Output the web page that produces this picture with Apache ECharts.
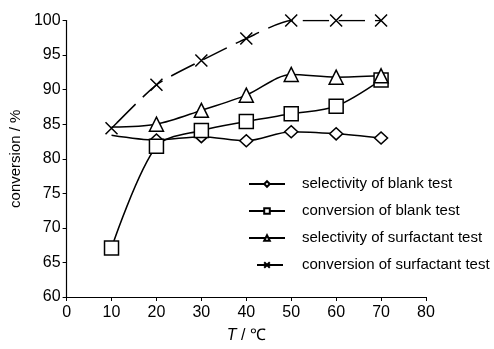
<!DOCTYPE html>
<html><head><meta charset="utf-8">
<script src="https://cdn.jsdelivr.net/npm/echarts@6/dist/echarts.min.js"></script>
<style>html,body{margin:0;padding:0;background:#fff}#c{width:494px;height:349px}</style>
</head><body><div id="c"></div>
<script>
var temps = [10, 20, 30, 40, 50, 60, 70];
var selBlank = [83.4, 82.7, 83.2, 82.6, 83.9, 83.6, 83.0];
var convBlank = [67.1, 81.8, 84.1, 85.4, 86.5, 87.6, 91.4];
var selSurf = [84.6, 85.0, 87.0, 89.2, 92.2, 91.8, 92.0];
var convSurf = [84.4, 90.7, 94.2, 97.4, 100, 100, 100];
var names = ['selectivity of blank test', 'conversion of blank test', 'selectivity of surfactant test', 'conversion of surfactant test'];
var xTicks = [0, 10, 20, 30, 40, 50, 60, 70, 80];
var yTicks = [60, 65, 70, 75, 80, 85, 90, 95, 100];

var FONT = '"Liberation Sans", Arial, sans-serif';
function pairs(vals, hideFirst) {
  return vals.map(function (v, i) {
    var item = { value: [temps[i], v] };
    if (hideFirst && i === 0) item.symbol = 'none';
    return item;
  });
}
var markStyle = { color: '#fff', borderColor: '#000', borderWidth: 1.5 };
var chart = echarts.init(document.getElementById('c'));
chart.setOption({
  animation: false,
  grid: { left: 65, right: 68, top: 20.5, bottom: 51.5 },
  xAxis: {
    type: 'value', min: xTicks[0], max: xTicks[xTicks.length - 1], interval: 10,
    splitLine: { show: false },
    axisLine: { lineStyle: { color: '#000', width: 1.2 } },
    axisTick: { inside: false, length: 4, lineStyle: { color: '#000' } },
    axisLabel: { color: '#000', fontFamily: FONT, fontSize: 16, margin: 8 },
    name: '{i|T} / ℃', nameLocation: 'middle', nameGap: 31,
    nameTextStyle: { color: '#000', fontFamily: FONT, fontSize: 16,
      rich: { i: { fontStyle: 'italic', fontFamily: FONT, fontSize: 16, color: '#000' } } }
  },
  yAxis: {
    type: 'value', min: yTicks[0], max: yTicks[yTicks.length - 1], interval: 5,
    splitLine: { show: false },
    axisLine: { show: true, lineStyle: { color: '#000', width: 1.2 } },
    axisTick: { show: true, inside: false, length: 4, lineStyle: { color: '#000' } },
    axisLabel: { color: '#000', fontFamily: FONT, fontSize: 16, margin: 6 },
    name: 'conversion / %', nameLocation: 'middle', nameGap: 39, nameRotate: 90,
    nameTextStyle: { color: '#000', fontFamily: FONT, fontSize: 15 }
  },
  legend: {
    orient: 'vertical', left: 243, top: 171.5, itemGap: 12,
    itemWidth: 36, itemHeight: 7,
    textStyle: { color: '#000', fontFamily: FONT, fontSize: 15, lineHeight: 15, padding: [0, 0, 0, 12] },
    data: names
  },
  series: [
    { name: names[0], type: 'line', smooth: 0.3, data: pairs(selBlank, true),
      symbol: 'diamond', symbolSize: [13, 12], itemStyle: markStyle,
      lineStyle: { color: '#000', width: 1.5 } },
    { name: names[1], type: 'line', smooth: 0.3, data: pairs(convBlank, false),
      symbol: 'rect', symbolSize: 14, itemStyle: markStyle,
      lineStyle: { color: '#000', width: 1.5 } },
    { name: names[2], type: 'line', smooth: 0.3, data: pairs(selSurf, true),
      symbol: 'triangle', symbolSize: 14, itemStyle: markStyle,
      lineStyle: { color: '#000', width: 1.5 } },
    { name: names[3], type: 'line', smooth: 0.2, data: pairs(convSurf, false),
      symbol: 'path://M0,0L10,10M10,0L0,10', symbolSize: 12, itemStyle: markStyle,
      lineStyle: { color: '#000', width: 1.5, type: [26, 10], dashOffset: -8 } }
  ]
});
</script></body></html>
